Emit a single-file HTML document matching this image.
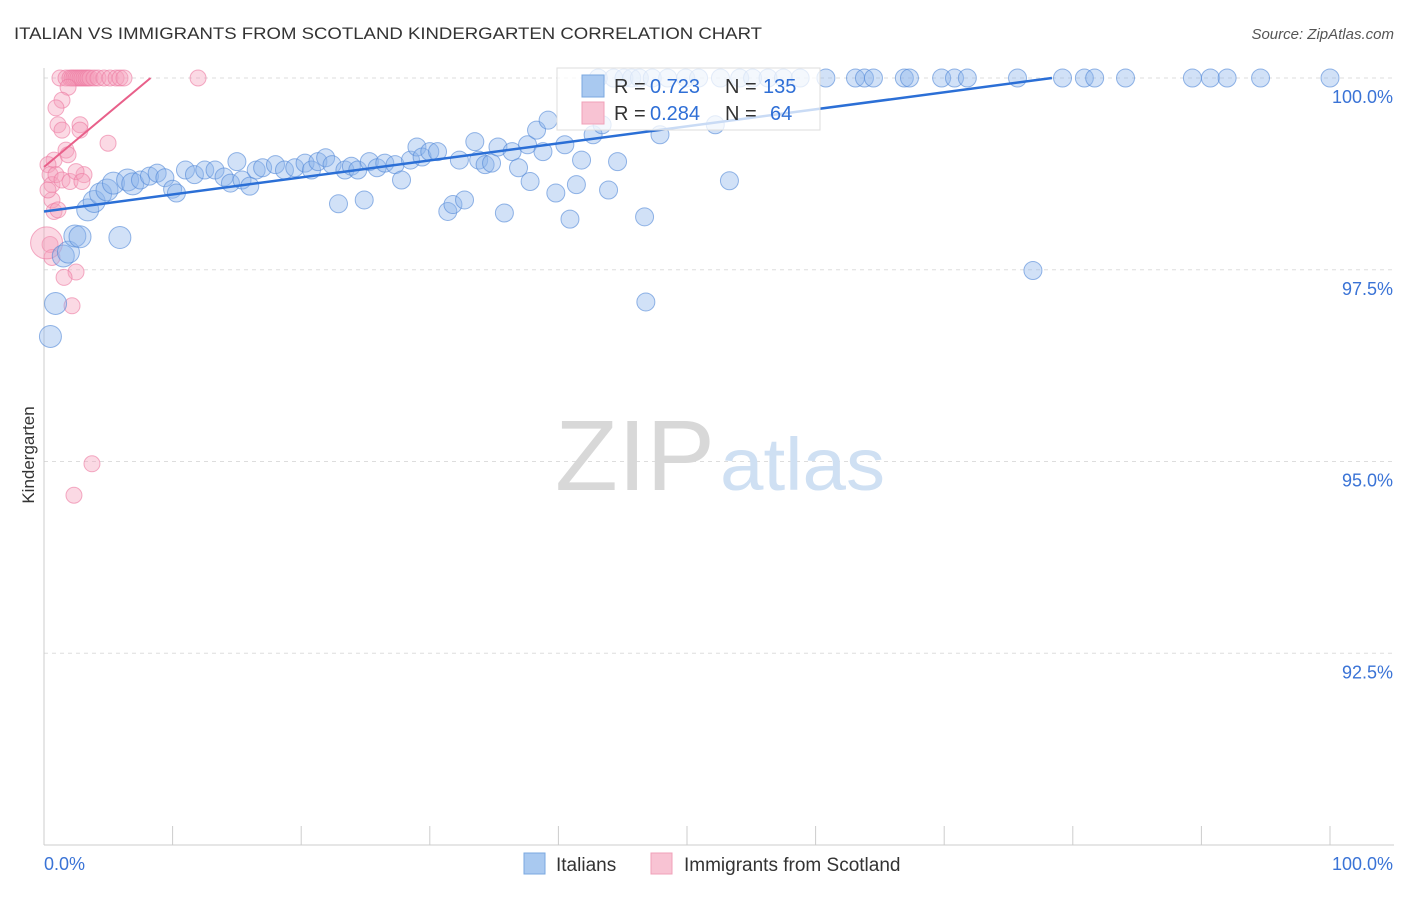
<!DOCTYPE html>
<html><head><meta charset="utf-8"><style>
body{margin:0;background:#fff;font-family:"Liberation Sans",sans-serif}
svg text{font-family:"Liberation Sans",sans-serif}
</style></head><body>
<svg id="c" width="1406" height="892" xmlns="http://www.w3.org/2000/svg">
<text x="14" y="39" font-size="17" fill="#333" textLength="748" lengthAdjust="spacingAndGlyphs">ITALIAN VS IMMIGRANTS FROM SCOTLAND KINDERGARTEN CORRELATION CHART</text>
<text x="1394" y="39" font-size="15" fill="#555" text-anchor="end" font-style="italic">Source: ZipAtlas.com</text>
<text x="34" y="455" font-size="17" fill="#333" text-anchor="middle" transform="rotate(-90 34 455)">Kindergarten</text>
<g id="grid"></g>
<g id="wm"><text x="555" y="490" font-size="100" fill="#d8d8d8" font-family="Liberation Serif" textLength="160" lengthAdjust="spacingAndGlyphs">ZIP</text><text x="720" y="490" font-size="74" fill="#cfe0f3" textLength="165" lengthAdjust="spacingAndGlyphs">atlas</text></g>
<g id="pts"></g>
<g id="lines"></g>
<g>
<rect x="557" y="68" width="263" height="62" fill="rgba(255,255,255,0.75)" stroke="#ddd"/>
<rect x="582" y="75" width="22" height="22" fill="#a9c9f0" stroke="#7aa8e0"/>
<rect x="582" y="102" width="22" height="22" fill="#f8c3d3" stroke="#f0a0b8"/>
<g font-size="20">
<text x="614" y="93" fill="#333">R =</text><text x="650" y="93" fill="#2f6fd6">0.723</text>
<text x="725" y="93" fill="#333">N =</text><text x="763" y="93" fill="#2f6fd6">135</text></g>
<g font-size="20">
<text x="614" y="120" fill="#333">R =</text><text x="650" y="120" fill="#2f6fd6">0.284</text>
<text x="725" y="120" fill="#333">N =</text><text x="770" y="120" fill="#2f6fd6">64</text></g>
</g>
<g>
<rect x="524" y="853" width="21" height="21" fill="#a9c9f0" stroke="#7aa8e0"/>
<text x="556" y="871" font-size="19" fill="#333">Italians</text>
<rect x="651" y="853" width="21" height="21" fill="#f8c3d3" stroke="#f0a0b8"/>
<text x="684" y="871" font-size="19" fill="#333">Immigrants from Scotland</text>
</g>
</svg>
<script>
const yTicks=[100,97.5,95,92.5];
const yTickLabels=["100.0%","97.5%","95.0%","92.5%"];
const xTickVals=[0,10,20,30,40,50,60,70,80,90,100];
const blueX=[0.5,0.9,1.5,1.9,2.4,2.8,3.4,3.9,4.4,4.9,5.4,5.9,6.5,6.9,7.5,8.2,8.8,9.4,10.0,10.3,11.0,11.7,12.5,13.3,14.0,14.5,15.0,15.4,16.0,16.5,17.0,18.0,18.7,19.5,20.3,20.8,21.3,21.9,22.4,22.9,23.4,23.9,24.4,24.9,25.3,25.9,26.5,27.3,27.8,28.5,29.0,29.4,30.0,30.6,31.4,31.8,32.3,32.7,33.5,33.8,34.3,34.8,35.3,35.8,36.4,36.9,37.6,37.8,38.3,38.8,39.2,39.8,40.5,40.9,41.4,41.8,42.7,43.4,43.9,44.6,46.7,46.8,47.9,52.2,53.3,76.9,
43.1,44.3,45.1,45.7,46.3,47.3,48.5,49.9,50.9,52.6,54.1,55.1,56.3,57.5,58.8,60.8,63.1,63.8,64.5,66.9,67.3,69.8,70.8,71.8,75.7,79.2,80.9,81.7,84.1,89.3,90.7,92.0,94.6,100];
const blueY=[96.63,97.06,97.68,97.73,97.94,97.93,98.28,98.39,98.49,98.54,98.63,97.92,98.67,98.62,98.67,98.72,98.76,98.70,98.55,98.50,98.80,98.74,98.80,98.80,98.71,98.63,98.91,98.67,98.59,98.80,98.83,98.87,98.80,98.83,98.89,98.80,98.91,98.96,98.87,98.36,98.80,98.85,98.80,98.41,98.91,98.83,98.89,98.87,98.67,98.93,99.10,98.97,99.04,99.04,98.26,98.35,98.93,98.41,99.17,98.93,98.87,98.89,99.10,98.24,99.04,98.83,99.13,98.65,99.32,99.04,99.45,98.50,99.13,98.16,98.61,98.93,99.26,99.39,98.54,98.91,98.19,97.08,99.26,99.39,98.66,97.49,
100,100,100,100,100,100,100,100,100,100,100,100,100,100,100,100,100,100,100,100,100,100,100,100,100,100,100,100,100,100,100,100,100,100];
const pinkX=[1.24,1.71,2.02,2.18,2.33,2.49,2.64,2.80,2.95,3.11,3.27,3.42,3.58,3.89,4.20,4.67,5.13,5.60,5.91,6.22,11.98,
1.87,1.40,0.93,1.09,1.40,2.80,2.80,0.78,1.71,1.87,0.31,0.47,0.62,0.93,1.40,2.02,3.11,2.49,2.95,0.62,0.78,1.09,0.31,0.47,2.49,1.56,2.18,4.98,3.73,2.33,0.62,0.2];
const pinkY=[100,100,100,100,100,100,100,100,100,100,100,100,100,100,100,100,100,100,100,100,100,
99.88,99.71,99.61,99.39,99.32,99.39,99.32,98.93,99.06,99.00,98.87,98.74,98.61,98.74,98.67,98.65,98.74,98.78,98.65,98.41,98.26,98.28,98.54,97.83,97.47,97.40,97.03,99.15,94.97,94.56,97.66,97.85];
const blueFit=[98.26,0.0222];
const pinkFit=[98.84,0.14];
const NS="http://www.w3.org/2000/svg";
const X0=44,X1=1330,YT=78,YB=845,YMIN=90,YMAX=100;
const sx=v=>X0+(v/100)*(X1-X0);
const sy=v=>YB-(v-YMIN)/(YMAX-YMIN)*(YB-YT);
function mk(t,a,p){const e=document.createElementNS(NS,t);for(const k in a)e.setAttribute(k,a[k]);p.appendChild(e);return e;}
const grid=document.getElementById('grid');
yTicks.forEach((v,i)=>{
 const l=mk('line',{x1:X0,x2:1394,y1:sy(v),y2:sy(v),stroke:'#ddd','stroke-dasharray':'4 4'},grid);
 
 
 const t=mk('text',{x:1393,y:sy(v)+25,'font-size':18,fill:'#3a73d6','text-anchor':'end'},grid);
 t.textContent=yTickLabels[i];
 
 
});
const ax=mk('line',{x1:X0,x2:X0,y1:YT-10,y2:YB,stroke:'#ccc'},grid);


const bx=mk('line',{x1:X0,x2:1394,y1:YB,y2:YB,stroke:'#ccc'},grid);


xTickVals.forEach(v=>{const l=mk('line',{x1:sx(v),x2:sx(v),y1:826,y2:YB,stroke:'#ccc'},grid);
 
 });
const xl0=mk('text',{x:44,y:870,'font-size':18,fill:'#3a73d6'},grid);xl0.textContent='0.0%';


const xl1=mk('text',{x:1393,y:870,'font-size':18,fill:'#3a73d6','text-anchor':'end'},grid);xl1.textContent='100.0%';


const pts=document.getElementById('pts');
pinkX.forEach((x,i)=>{const c=mk('circle',{cx:sx(x),cy:sy(pinkY[i]),r:i==pinkX.length-1?16:8,fill:'rgba(246,160,188,0.4)',stroke:'rgba(236,120,160,0.6)'},pts);
 
 });
blueX.forEach((x,i)=>{const c=mk('circle',{cx:sx(x),cy:sy(blueY[i]),r:x<7?11:9,fill:'rgba(140,180,235,0.4)',stroke:'rgba(80,135,215,0.6)'},pts);
 
 });
const ln=document.getElementById('lines');
const bEnd=(100-blueFit[0])/blueFit[1];
const b=mk('line',{x1:sx(0),y1:sy(blueFit[0]),x2:sx(bEnd),y2:sy(100),stroke:'#2b6fd6','stroke-width':2.5},ln);


const pEnd=(100-pinkFit[0])/pinkFit[1];
const p=mk('line',{x1:sx(0),y1:sy(pinkFit[0]),x2:sx(pEnd),y2:sy(100),stroke:'#e8608a','stroke-width':2},ln);


</script>
</body></html>
